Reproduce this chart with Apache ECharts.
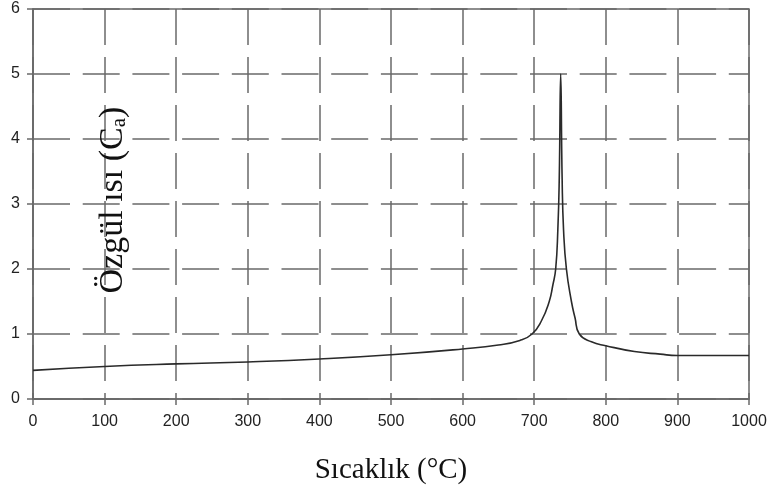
<!DOCTYPE html>
<html>
<head>
<meta charset="utf-8">
<script src="https://cdn.jsdelivr.net/npm/echarts@6/dist/echarts.min.js"></script>
<style>
  html, body { margin: 0; padding: 0; background: #fff; }
  #box { width: 771px; height: 493px; }
</style>
</head>
<body>
<div id="box"></div>
<script>
// sıcaklık (°C) ve özgül ısı değerleri
const temps = [0, 100, 200, 300, 400, 500, 600, 650, 680, 697, 710, 721, 726, 730, 733, 735, 737, 739, 741, 745, 752, 757, 763, 780, 800, 840, 876, 900, 1000];
const heat  = [0.44, 0.50, 0.54, 0.57, 0.615, 0.68, 0.77, 0.83, 0.9, 1.0, 1.2, 1.5, 1.75, 2.0, 2.6, 3.4, 5.0, 3.4, 2.6, 2.0, 1.5, 1.25, 1.0, 0.88, 0.82, 0.73, 0.69, 0.67, 0.67];

const xTicks = [0, 1000, 100];   // min, max, interval
const yTicks = [0, 6, 1];

const gridColor = '#6a6a6a';
const labelFont = 'Liberation Sans, Arial, sans-serif';
const serifFont = 'Liberation Serif, Times New Roman, serif';

let myChart = echarts.init(document.getElementById('box'));

const points = temps.map((t, i) => [t, heat[i]]);

const option = {
  animation: false,
  grid: {
    left: 33, right: 22, top: 9, bottom: 94,
    show: true,
    borderColor: gridColor,
    borderWidth: 1.5
  },
  xAxis: {
    type: 'value',
    min: xTicks[0], max: xTicks[1], interval: xTicks[2],
    name: 'Sıcaklık (°C)',
    nameLocation: 'middle',
    nameGap: 57,
    nameTextStyle: { fontFamily: serifFont, fontSize: 29, color: '#111' },
    axisLine: { show: true, lineStyle: { color: gridColor, width: 1.5 } },
    axisTick: { show: true, length: 6, lineStyle: { color: gridColor, width: 1.5 } },
    axisLabel: { margin: 15, fontFamily: labelFont, fontSize: 16, color: '#222', formatter: v => String(v) },
    splitLine: { show: true, lineStyle: { color: gridColor, width: 1.5, type: [36, 12] } }
  },
  yAxis: {
    type: 'value',
    min: yTicks[0], max: yTicks[1], interval: yTicks[2],
    name: '{t|Özgül ısı (C}{s|a}{t|)}',
    nameLocation: 'middle',
    nameRotate: 90,
    nameGap: -97,
    nameTextStyle: {
      padding: [0, 0, 0, 8],
      rich: {
        t: { fontFamily: serifFont, fontSize: 34, lineHeight: 34, color: '#111', verticalAlign: 'bottom' },
        s: { fontFamily: serifFont, fontSize: 21, lineHeight: 14, color: '#111', verticalAlign: 'bottom' }
      }
    },
    axisLine: { show: true, lineStyle: { color: gridColor, width: 1.5 } },
    axisTick: { show: true, length: 6, lineStyle: { color: gridColor, width: 1.5 } },
    axisLabel: { margin: 13, fontFamily: labelFont, fontSize: 16, color: '#222' },
    splitLine: { show: true, lineStyle: { color: gridColor, width: 1.5, type: [37, 12.7] } }
  },
  series: [
    {
      type: 'line',
      data: points,
      showSymbol: false,
      smooth: 0.5,
      lineStyle: { color: '#2a2a2a', width: 1.6, join: 'round' },
      z: 5
    }
  ]
};
myChart.setOption(option);
</script>
</body>
</html>
